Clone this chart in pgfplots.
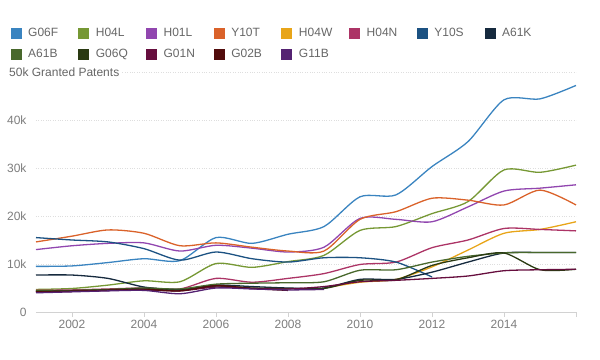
\documentclass[border=0pt]{standalone}
\usepackage{pgfplots}
\pgfplotsset{compat=1.18}
\usepackage{fontspec}
\setmainfont{Liberation Sans}
\definecolor{txt}{RGB}{102,102,102}
\definecolor{tick}{RGB}{125,125,125}
\definecolor{cG06F}{RGB}{58,132,192}
\definecolor{cH04L}{RGB}{118,152,52}
\definecolor{cH01L}{RGB}{145,70,175}
\definecolor{cY10T}{RGB}{218,98,42}
\definecolor{cH04W}{RGB}{232,165,25}
\definecolor{cH04N}{RGB}{172,52,102}
\definecolor{cY10S}{RGB}{28,82,130}
\definecolor{cA61K}{RGB}{22,42,62}
\definecolor{cA61B}{RGB}{72,104,44}
\definecolor{cG06Q}{RGB}{42,58,18}
\definecolor{cG01N}{RGB}{102,14,62}
\definecolor{cG02B}{RGB}{82,12,12}
\definecolor{cG11B}{RGB}{84,34,114}
\begin{document}
\begin{tikzpicture}[x=1pt,y=1pt]
\useasboundingbox (0,0) rectangle (600,359);
\begin{axis}[
  at={(36pt,47pt)}, anchor=south west,
  scale only axis, width=540pt, height=240pt,
  xmin=2001, xmax=2016, ymin=0, ymax=50000,
  axis x line*=bottom, axis y line*=left,
  x axis line style={draw={rgb,255:red,210;green,210;blue,210}},
  y axis line style={draw=none},
  xtick={2002,2004,...,2016},
  xticklabels={2002,2004,2006,2008,2010,2012,2014,{}},
  x tick label style={/pgf/number format/1000 sep={}, text=tick, font=\fontsize{12}{14}\selectfont},
  xtick style={draw={rgb,255:red,210;green,210;blue,210}},
  ytick style={draw=none},
  tick align=outside, major tick length=5pt,
  scaled y ticks=false,
  ytick={0,10000,20000,30000,40000,50000},
  yticklabels={0,10k,20k,30k,40k,{}},
  ymajorgrids,
  grid style={dotted, line width=0.8pt, draw={rgb,255:red,222;green,222;blue,222}},
  y tick label style={text=tick, font=\fontsize{12}{14}\selectfont, xshift=-1pt},
  /pgf/number format/assume math mode=true,
  clip=false,
  every axis plot/.append style={line width=1.3pt, smooth, tension=0.45},
  legend columns=8,
  legend style={at={(axis description cs:-0.0463,1.19)}, anchor=north west,
    draw=none, fill=none, inner sep=0pt, row sep=7pt,
    font=\fontsize{12}{14}\selectfont, text=txt,
    nodes={text width=44pt, align=left},
    /tikz/every odd column/.append style={column sep=5pt},
    /tikz/every even column/.append style={column sep=4.7pt}},
  legend image code/.code={\fill[#1,line width=0pt] (0pt,-5pt) rectangle (10pt,5pt);},
]
\addplot[cG06F] coordinates {(2001,9500)(2002,9600)(2003,10300)(2004,11100)(2005,10700)(2006,15500)(2007,14300)(2008,16200)(2009,17800)(2010,24000)(2011,24400)(2012,30300)(2013,35500)(2014,44200)(2015,44400)(2016,47200)};
\addlegendentry{G06F}
\addplot[cH04L] coordinates {(2001,4700)(2002,4900)(2003,5600)(2004,6500)(2005,6300)(2006,10100)(2007,9300)(2008,10500)(2009,11800)(2010,17000)(2011,17800)(2012,20500)(2013,23000)(2014,29600)(2015,29100)(2016,30600)};
\addlegendentry{H04L}
\addplot[cH01L] coordinates {(2001,13000)(2002,13800)(2003,14300)(2004,14400)(2005,12700)(2006,13900)(2007,13300)(2008,12500)(2009,13500)(2010,19500)(2011,19300)(2012,18800)(2013,21900)(2014,25200)(2015,25800)(2016,26500)};
\addlegendentry{H01L}
\addplot[cY10T] coordinates {(2001,14600)(2002,15800)(2003,17100)(2004,16400)(2005,13800)(2006,14400)(2007,13500)(2008,12700)(2009,12700)(2010,19300)(2011,20900)(2012,23700)(2013,23300)(2014,22300)(2015,25400)(2016,22300)};
\addlegendentry{Y10T}
\addplot[cH04W] coordinates {(2009,5000)(2010,6200)(2011,6800)(2012,9400)(2013,12900)(2014,16400)(2015,17200)(2016,18800)};
\addlegendentry{H04W}
\addplot[cH04N] coordinates {(2001,4500)(2002,4600)(2003,4800)(2004,5000)(2005,4800)(2006,7000)(2007,6200)(2008,7000)(2009,8000)(2010,9900)(2011,10400)(2012,13400)(2013,15000)(2014,17400)(2015,17200)(2016,16900)};
\addlegendentry{H04N}
\addplot[cY10S] coordinates {(2001,15500)(2002,15000)(2003,14600)(2004,13200)(2005,10800)(2006,12500)(2007,11100)(2008,10400)(2009,11300)(2010,11300)(2011,10400)(2012,7300)};
\addlegendentry{Y10S}
\addplot[cA61K] coordinates {(2001,7700)(2002,7700)(2003,7000)(2004,5200)(2005,4700)(2006,5600)(2007,5300)(2008,5000)(2009,5000)(2010,6800)(2011,6800)(2012,8300)(2013,10400)(2014,12300)(2015,12400)(2016,12400)};
\addlegendentry{A61K}
\addplot[cA61B] coordinates {(2001,4400)(2002,4500)(2003,4700)(2004,5000)(2005,4800)(2006,5800)(2007,6000)(2008,6100)(2009,6300)(2010,8700)(2011,8800)(2012,10400)(2013,11600)(2014,12300)(2015,12400)(2016,12400)};
\addlegendentry{A61B}
\addplot[cG06Q] coordinates {(2001,4300)(2002,4400)(2003,4600)(2004,4800)(2005,4500)(2006,5400)(2007,5000)(2008,4900)(2009,4900)(2010,6600)(2011,6700)(2012,9700)(2013,11300)(2014,12300)(2015,8800)(2016,8900)};
\addlegendentry{G06Q}
\addplot[cG01N] coordinates {(2001,4200)(2002,4300)(2003,4500)(2004,4600)(2005,4400)(2006,5200)(2007,4900)(2008,4800)(2009,5300)(2010,6300)(2011,6600)(2012,7000)(2013,7500)(2014,8600)(2015,8800)(2016,8900)};
\addlegendentry{G01N}
\addplot[cG02B] coordinates {(2001,4200)(2002,4300)(2003,4500)(2004,4700)(2005,4400)(2006,5500)(2007,4900)(2008,4500)};
\addlegendentry{G02B}
\addplot[cG11B] coordinates {(2001,4000)(2002,4200)(2003,4400)(2004,4500)(2005,3800)(2006,5000)(2007,4800)(2008,4600)(2009,4700)};
\addlegendentry{G11B}
\node[anchor=west, fill=white, inner sep=2pt, text=txt, font=\fontsize{12}{14}\selectfont] at (axis description cs:-0.0537,1) {50k Granted Patents};
\end{axis}
\end{tikzpicture}
\end{document}
